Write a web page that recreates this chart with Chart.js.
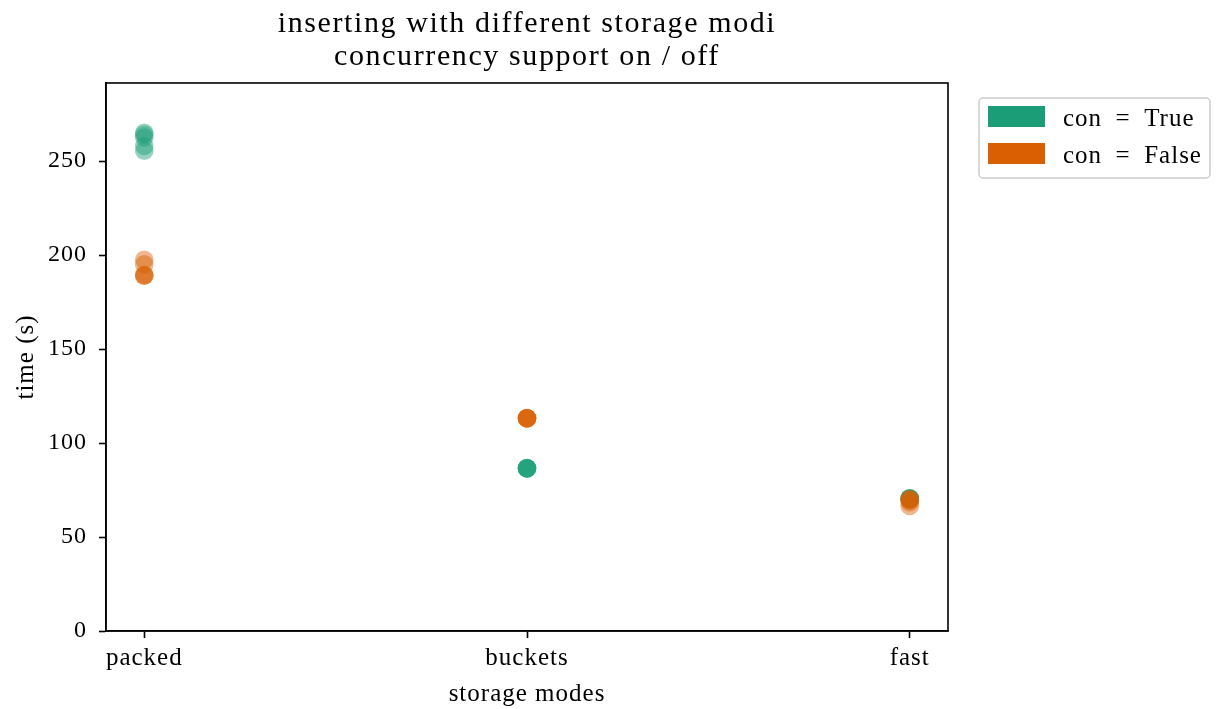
<!DOCTYPE html>
<html>
<head>
<meta charset="utf-8">
<script src="https://cdn.jsdelivr.net/npm/chart.js@4.4.1/dist/chart.umd.min.js"></script>
<style>
  html, body { margin: 0; padding: 0; background: #ffffff; }
  #wrap { width: 1217px; height: 709px; }
</style>
</head>
<body>
<div id="wrap"><canvas id="c" width="1217" height="709"></canvas></div>
<script>
// storage modes on the x axis
const categories = ['packed', 'buckets', 'fast'];
// insert times (s) per run, concurrency support on
const conTrue = {
  packed:  [265, 264, 262.5, 258, 255.5],
  buckets: [86.5, 86.5, 86.6, 86.7, 86.5],
  fast:    [70.7, 70.5, 70.5, 70.3, 70.2]
};
// insert times (s) per run, concurrency support off
const conFalse = {
  packed:  [197.5, 195, 189.5, 189, 189],
  buckets: [113.2, 113.1, 113.3, 113.2, 113.1],
  fast:    [70.2, 69.9, 69.5, 68.5, 66.5]
};
const yTicks = [0, 50, 100, 150, 200, 250];
const seriesLabels = ['con = True', 'con = False'];
const seriesColors = ['#1b9e77', '#d95f02'];
const titleLines = ['inserting with different storage modi', 'concurrency support on / off'];

function toPoints(series) {
  const pts = [];
  categories.forEach((cat, i) => {
    series[cat].forEach(v => pts.push({ x: i, y: v }));
  });
  return pts;
}

function rgba(hex, a) {
  const n = parseInt(hex.slice(1), 16);
  return `rgba(${(n >> 16) & 255},${(n >> 8) & 255},${n & 255},${a})`;
}

const FONT = '"Liberation Serif", "DejaVu Serif", serif';

// slightly looser lettering for every text drawn on the canvas
const spacingPlugin = {
  id: 'spacing',
  beforeDraw(chart) { chart.ctx.letterSpacing = '1px'; }
};

// title, frame around the plot area, and the legend to the right of it
const framePlugin = {
  id: 'frame',
  afterDraw(chart) {
    const { ctx, chartArea: a } = chart;
    ctx.save();
    ctx.strokeStyle = '#000';
    ctx.lineWidth = 1.6;
    ctx.strokeRect(a.left, a.top, a.right - a.left, a.bottom - a.top);

    // two-line title centred over the plot area
    ctx.save();
    ctx.letterSpacing = '1.6px';
    ctx.font = '30px ' + FONT;
    ctx.fillStyle = '#000';
    ctx.textAlign = 'center';
    ctx.textBaseline = 'alphabetic';
    const cx = (a.left + a.right) / 2;
    titleLines.forEach((t, i) => ctx.fillText(t, cx, 31.5 + i * 33.5));
    ctx.restore();

    // legend box
    const lx = 979, ly = 98, lw = 231, lh = 80;
    ctx.lineWidth = 1.5;
    ctx.strokeStyle = '#cccccc';
    ctx.fillStyle = 'rgba(255,255,255,0.8)';
    ctx.beginPath();
    if (ctx.roundRect) ctx.roundRect(lx, ly, lw, lh, 4); else ctx.rect(lx, ly, lw, lh);
    ctx.fill();
    ctx.stroke();
    ctx.letterSpacing = '1px';
    ctx.font = '25px ' + FONT;
    ctx.textBaseline = 'alphabetic';
    ctx.textAlign = 'left';
    chart.data.datasets.forEach((ds, i) => {
      const top = 106 + i * 37;
      ctx.fillStyle = seriesColors[i];
      ctx.fillRect(988, top, 57, 21);
      ctx.fillStyle = '#000';
      ctx.fillText(ds.label.replace(' = ', '\u2002=\u2002'), 1063, top + 20);
    });
    ctx.restore();
  }
};

new Chart(document.getElementById('c'), {
  type: 'scatter',
  data: {
    datasets: [
      {
        label: seriesLabels[0],
        data: toPoints(conTrue),
        backgroundColor: rgba(seriesColors[0], 0.45),
        borderWidth: 0,
        pointRadius: 9.3,
        pointHoverRadius: 9.3,
        order: 2
      },
      {
        label: seriesLabels[1],
        data: toPoints(conFalse),
        backgroundColor: rgba(seriesColors[1], 0.45),
        borderWidth: 0,
        pointRadius: 9.3,
        pointHoverRadius: 9.3,
        order: 1
      }
    ]
  },
  options: {
    responsive: false,
    animation: false,
    events: [],
    layout: { padding: { left: 0, right: 269, top: 83, bottom: 0 } },
    plugins: {
      legend: { display: false },
      tooltip: { enabled: false },
      title: { display: false }
    },
    scales: {
      x: {
        type: 'linear',
        min: -0.1,
        max: 2.1,
        afterBuildTicks(scale) {
          scale.ticks = categories.map((_, i) => ({ value: i }));
        },
        afterFit(scale) { scale.height = 78; },
        ticks: {
          callback: v => categories[v],
          color: '#000',
          font: { family: FONT, size: 25 },
          padding: 5,
          maxRotation: 0
        },
        grid: {
          display: true,
          drawOnChartArea: false,
          drawTicks: true,
          tickLength: 7,
          tickWidth: 1.6,
          tickColor: '#000'
        },
        border: { display: true, color: '#000', width: 1.6 },
        title: {
          display: true,
          text: 'storage modes',
          color: '#000',
          font: { family: FONT, size: 25 },
          padding: { top: 0, bottom: 0 }
        }
      },
      y: {
        min: 0,
        max: 291.5,
        afterBuildTicks(scale) {
          scale.ticks = yTicks.map(v => ({ value: v }));
        },
        afterFit(scale) { scale.width = 106; },
        ticks: {
          color: '#000',
          font: { family: FONT, size: 24 },
          padding: 12
        },
        grid: {
          display: true,
          drawOnChartArea: false,
          drawTicks: true,
          tickLength: 7,
          tickWidth: 1.6,
          tickColor: '#000'
        },
        border: { display: true, color: '#000', width: 1.6 },
        title: {
          display: true,
          text: 'time (s)',
          color: '#000',
          font: { family: FONT, size: 25 },
          padding: { top: 11, bottom: 0 }
        }
      }
    }
  },
  plugins: [spacingPlugin, framePlugin]
});
</script>
</body>
</html>
